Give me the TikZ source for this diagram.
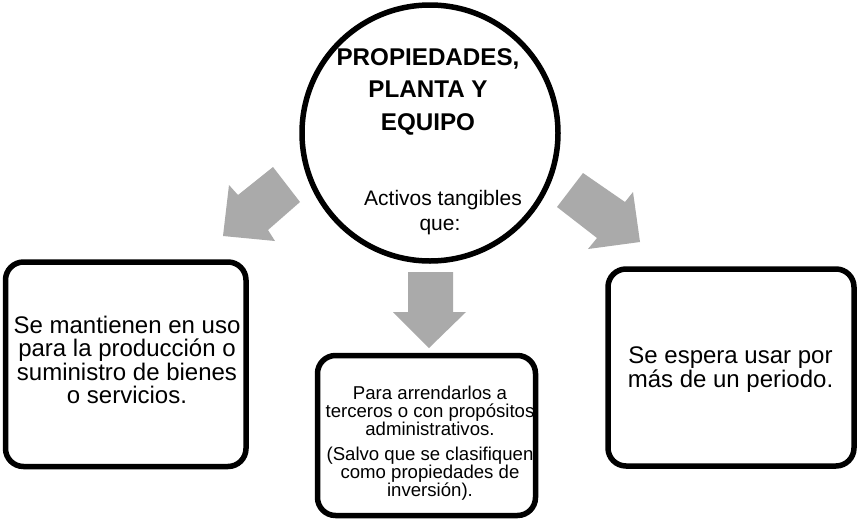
\documentclass[tikz,border=0pt]{standalone}
\usepackage{fontspec}
\setmainfont{Liberation Sans}
\definecolor{arrowgray}{RGB}{170,170,170}
\begin{document}
\begin{tikzpicture}[x=1pt,y=-1pt,
  frame/.style={draw=black,line width=5.5pt,rounded corners=18pt},
  blockarrow/.style={fill=arrowgray,draw=none},
  big/.style={anchor=base,inner sep=0pt,font=\fontsize{24}{24}\selectfont},
  bigbold/.style={anchor=base,inner sep=0pt,font=\fontsize{24.2}{24}\selectfont\bfseries},
  mid/.style={anchor=base,inner sep=0pt,font=\fontsize{21}{21}\selectfont},
  small/.style={anchor=base,inner sep=0pt,font=\fontsize{18.6}{18}\selectfont}]
\useasboundingbox (0,0) rectangle (857,520);
\fill[white] (0,0) rectangle (857,520);
% central circle
\node[circle,draw=black,line width=5.5pt,minimum size=256pt,inner sep=0pt] (c) at (430,133) {};
\node[bigbold] (t1) at (428,65) {PROPIEDADES,};
\node[bigbold] (t2) at (428,97.5) {PLANTA Y};
\node[bigbold] (t3) at (428,130) {EQUIPO};
\node[mid] (t4) at (443,205) {Activos tangibles};
\node[mid] (t5) at (440,230) {que:};
% block arrows
\path[blockarrow] (273,167) -- (300,202) -- (268,230) -- (275,241) -- (223,236) -- (229,185) -- (238,195) -- cycle;
\path[blockarrow] (583,173) -- (625,202) -- (633,192) -- (640,242) -- (588,249) -- (597,238) -- (557,207) -- cycle;
\path[blockarrow] (408,272) -- (453,272) -- (453,312) -- (466,312) -- (429,348) -- (393,312) -- (408,312) -- cycle;
% boxes
\draw[frame] (5.5,262) rectangle (246,466.5);
\draw[frame] (608,269) rectangle (854,466);
\draw[frame] (317.5,355.5) rectangle (535.5,515.5);
% left box text
\node[big] (l1) at (127,333) {Se mantienen en uso};
\node[big] (l2) at (127,356.5) {para la producción o};
\node[big] (l3) at (127,380) {suministro de bienes};
\node[big] (l4) at (127,403.5) {o servicios.};
% right box text
\node[big] (r1) at (730.5,363) {Se espera usar por};
\node[big] (r2) at (730.5,387) {más de un periodo.};
% middle box text
\node[small] (m1) at (430,399) {Para arrendarlos a};
\node[small] (m2) at (430,417) {terceros o con propósitos};
\node[small] (m3) at (430,435) {administrativos.};
\node[small] (m4) at (430,460) {(Salvo que se clasifiquen};
\node[small] (m5) at (430,478) {como propiedades de};
\node[small] (m6) at (430,496) {inversión).};
\end{tikzpicture}
\end{document}
